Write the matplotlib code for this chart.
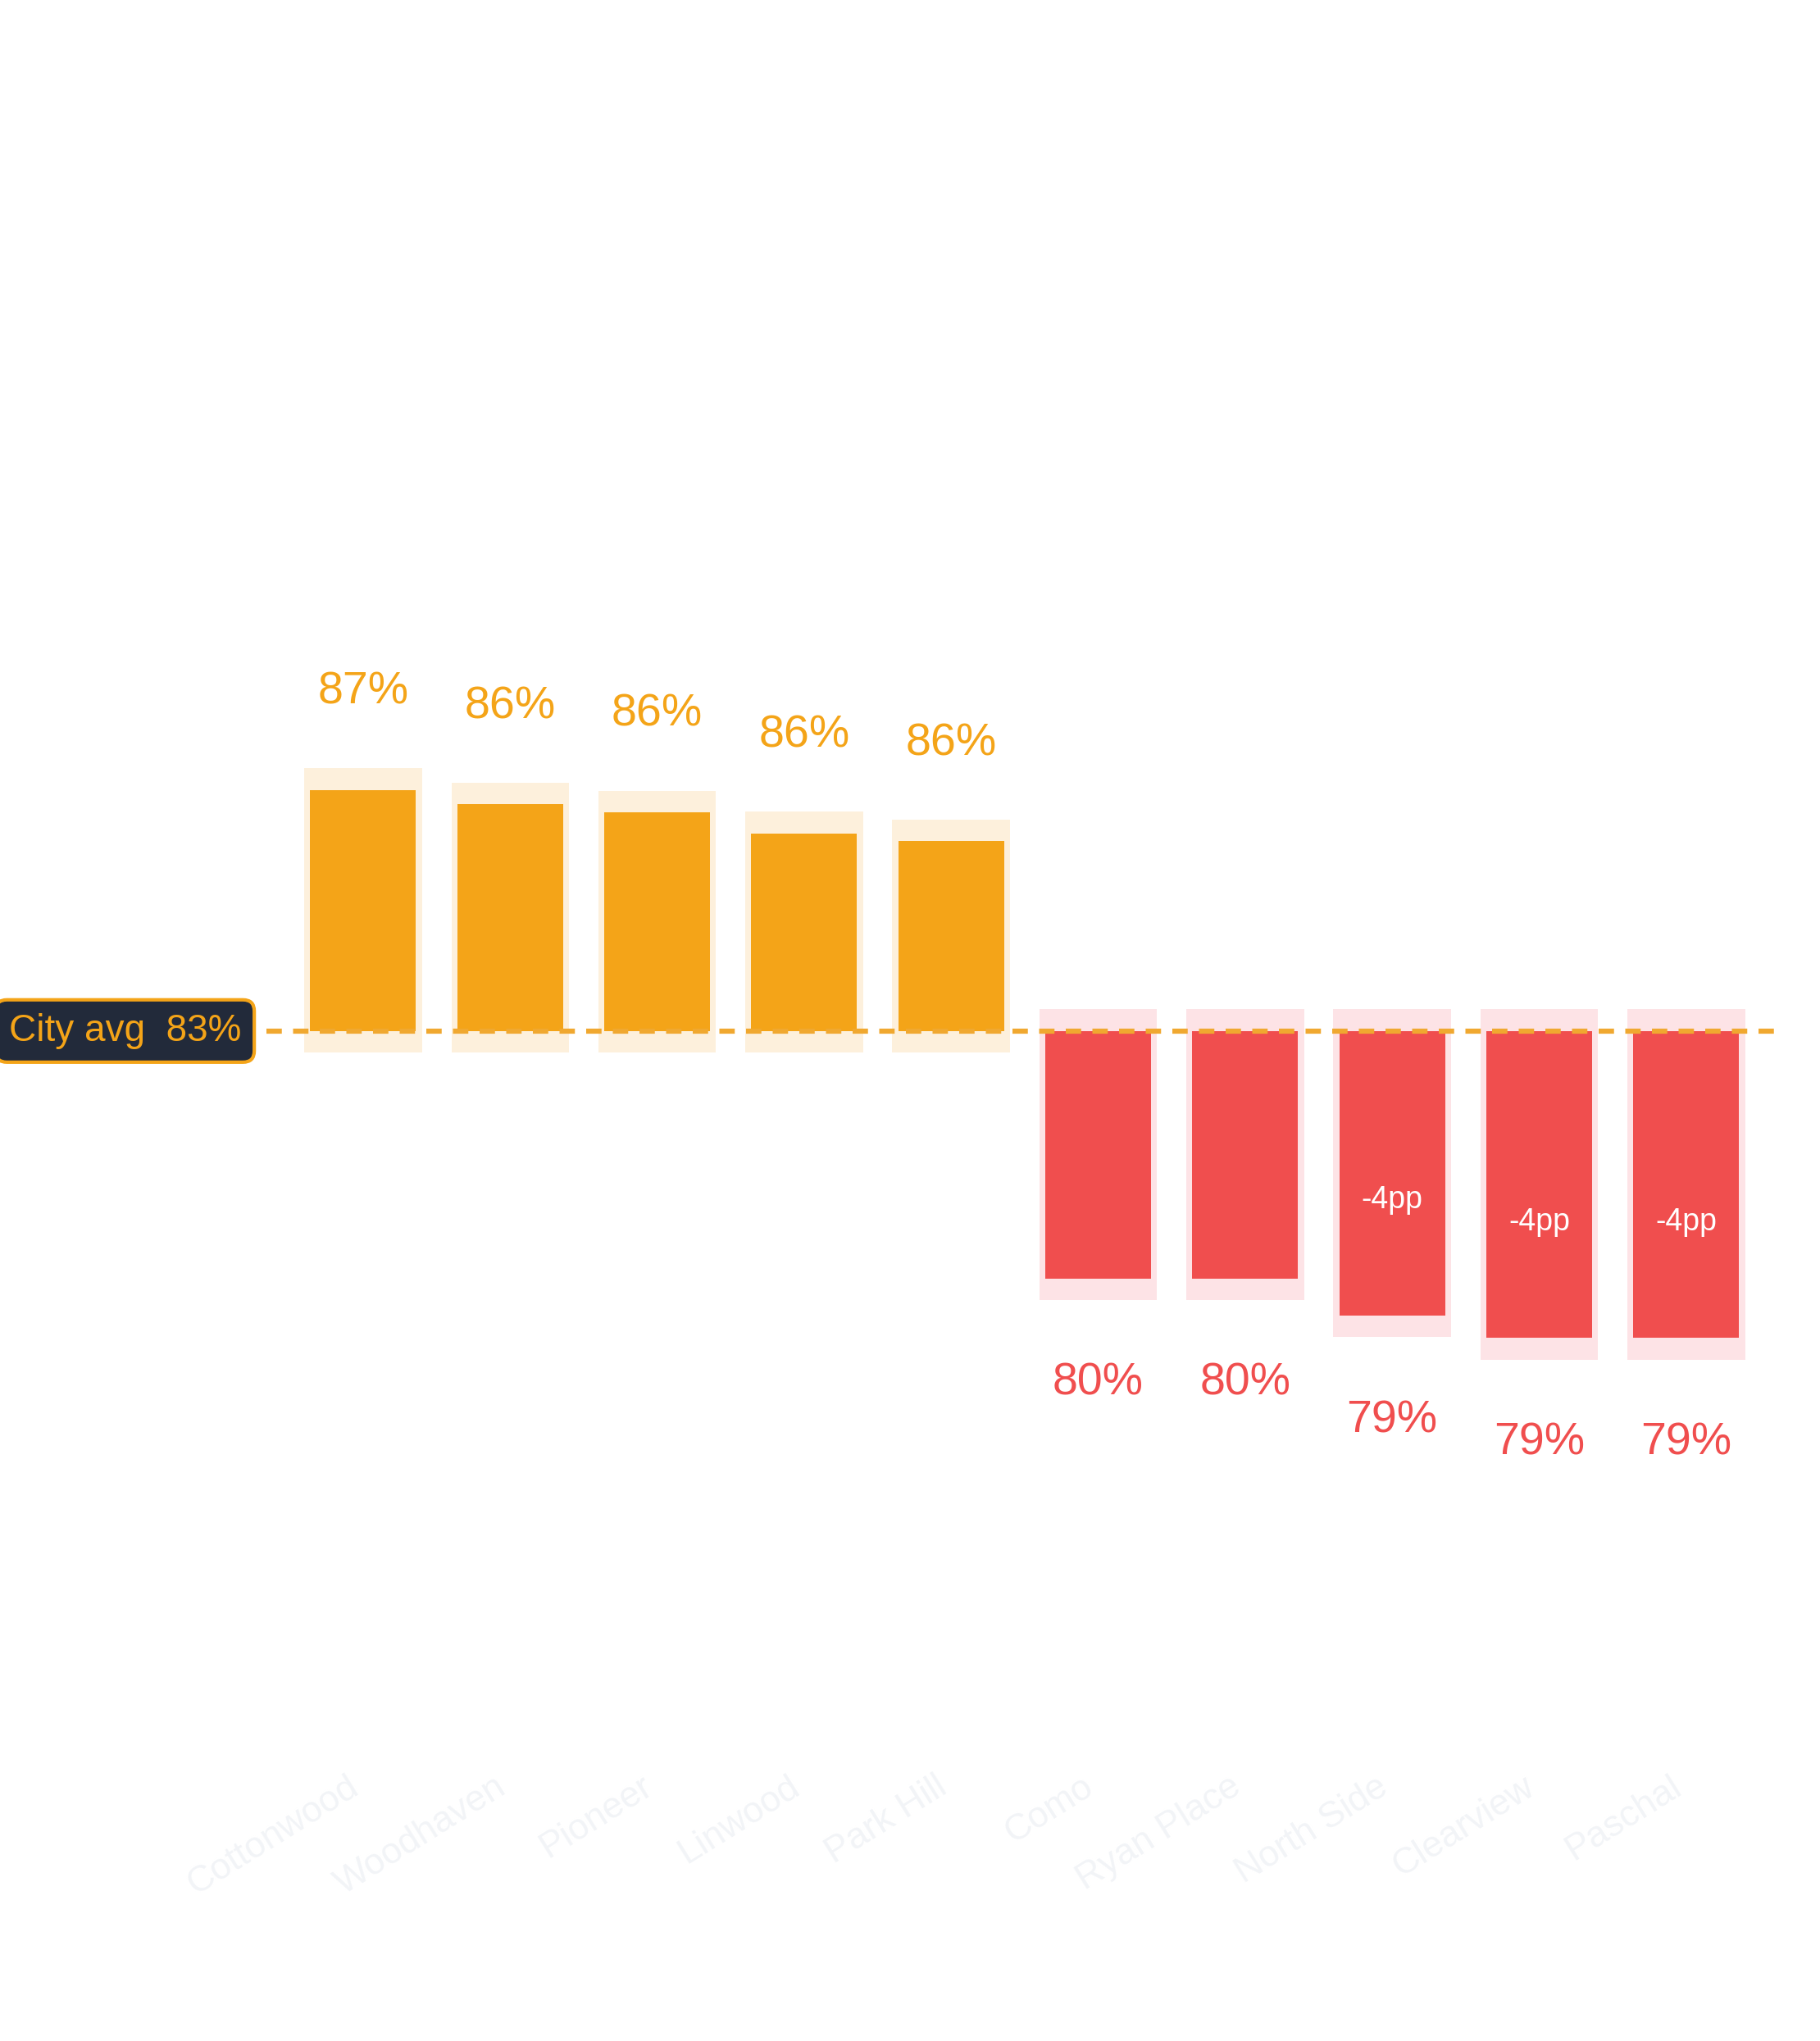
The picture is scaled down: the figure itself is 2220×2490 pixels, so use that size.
import matplotlib
matplotlib.use("Agg")
import matplotlib.pyplot as plt

names = ["Cottonwood", "Woodhaven", "Pioneer", "Linwood", "Park Hill",
         "Como", "Ryan Place", "North Side", "Clearview", "Paschal"]
values = [86.63, 86.43, 86.32, 86.03, 85.92, 79.88, 79.88, 79.37, 79.06, 79.06]
city_avg = 83.3

plt.rcParams['font.family'] = ['Liberation Sans', 'DejaVu Sans']
fig = plt.figure(figsize=(22.2, 24.9), dpi=100)
ax = fig.add_axes([0, 0, 1, 1])
ax.set_xlim(-2.47, 9.91)
ax.set_ylim(69.35, 97.54)
ax.axis('off')

ORANGE, RED = "#f4a418", "#f04e4e"
pad = 0.3
for i, (n, v) in enumerate(zip(names, values)):
    up = v >= city_avg
    c = ORANGE if up else RED
    halo = "#fdf0dc" if up else "#fde3e6"
    lo, hi = min(v, city_avg), max(v, city_avg)
    ax.bar(i, hi - lo + 2 * pad, bottom=lo - pad, width=0.8, color=halo, zorder=1)
    ax.bar(i, hi - lo, bottom=lo, width=0.72, color=c, zorder=2)
    if up:
        ax.text(i, v + 1.35, f"{v:.0f}%", ha='center', va='center', fontsize=40, color=c)
    else:
        ax.text(i, v - 1.45, f"{v:.0f}%", ha='center', va='center', fontsize=40, color=c)
        d = v - city_avg
        if abs(d) >= 3.5:
            ax.text(i, v + 1.6, f"{d:.0f}pp", ha='center', va='center', fontsize=27, color='white', zorder=4)
    ax.text(i - 0.05, 72.9, n, rotation=32, ha='right', va='center', fontsize=32,
            color="#f2f4f7", rotation_mode='anchor')

ax.plot([-2.47, 9.6], [city_avg, city_avg], ls=(0, (3, 2.2)), color="#f0a830", lw=4.5, zorder=3)
ax.text(-1.62, city_avg, "City avg  83%", ha='center', va='center', fontsize=33, color=ORANGE, zorder=5,
        bbox=dict(boxstyle="round,pad=0.35,rounding_size=0.3", fc="#222a3a", ec=ORANGE, lw=3))

fig.savefig("out.png", dpi=100)
